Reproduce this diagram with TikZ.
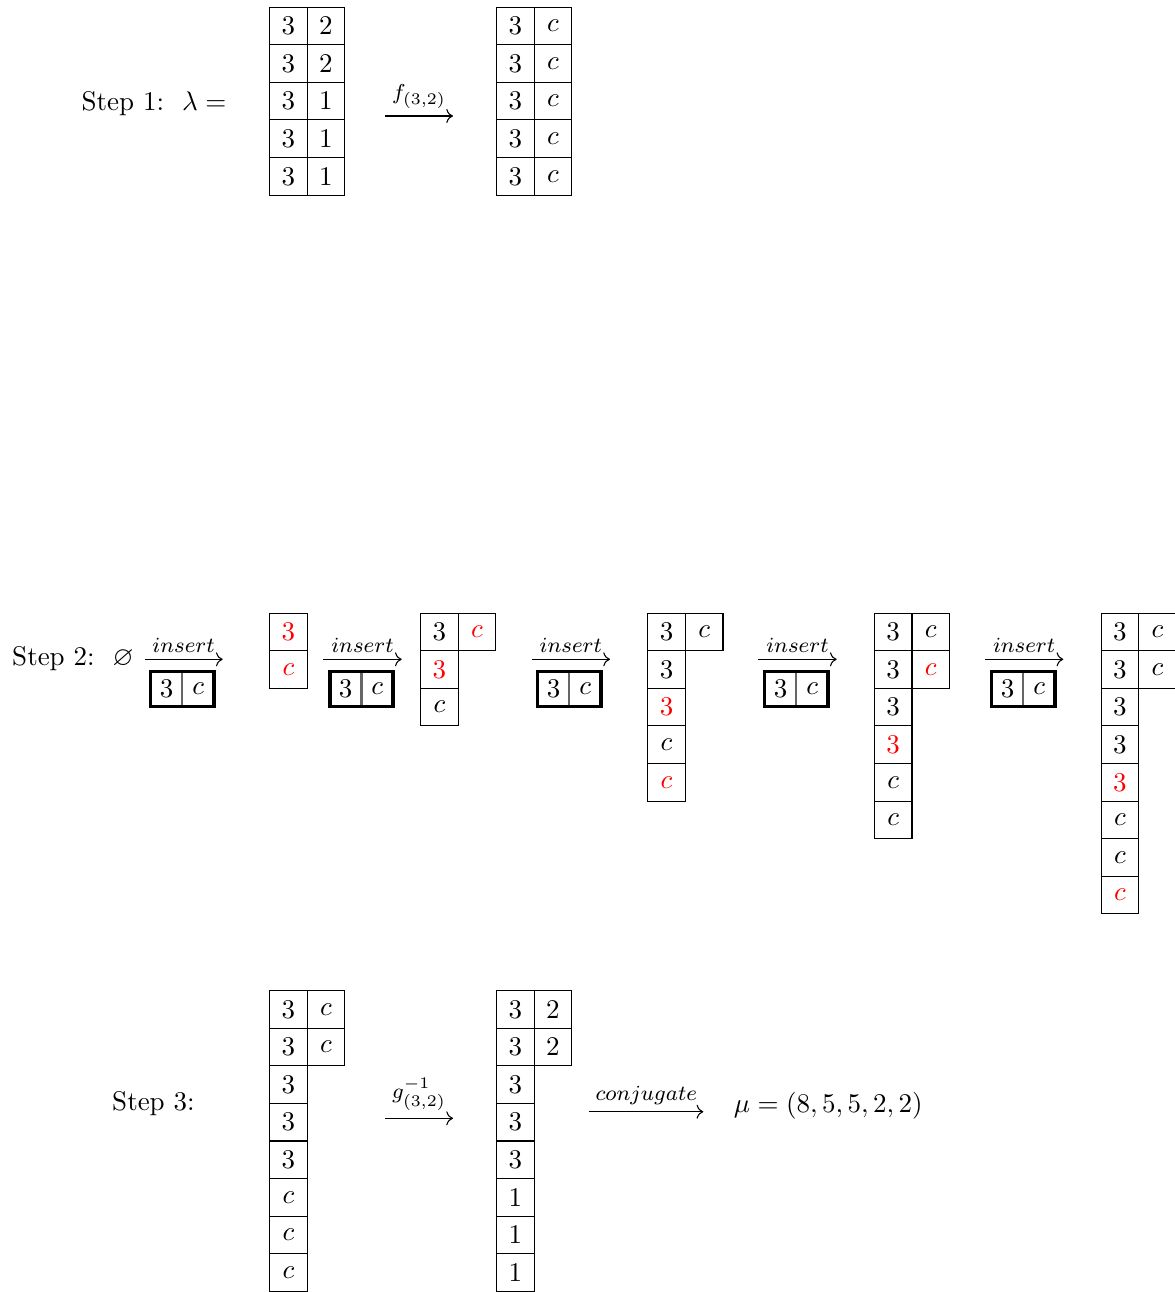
\documentclass[tikz,border=0pt]{standalone}
\usepackage{amssymb}
\usetikzlibrary{arrows.meta,positioning,fit,matrix}
\tikzset{
  yt/cell/.style={
    draw=black,
    line width=0.4pt,
    minimum width=13.93pt,
    minimum height=13.93pt,
    inner sep=0pt,
    anchor=center
  },
  yt/tab/.style={
    matrix of math nodes,
    nodes={yt/cell},
    column sep=-0.4pt,
    row sep=-0.4pt,
    inner sep=0pt,
    anchor=north west
  },
  yt/red/.style={text=red},
  yt/boxcell/.style={
    draw=black!60,
    line width=0.4pt,
    minimum width=11.3pt,
    minimum height=12.4pt,
    inner sep=0pt
  },
  yt/frame/.style={draw=black, line width=1.2pt, inner sep=0pt},
  yt/arrow/.style={-{Computer Modern Rightarrow}, line width=0.4pt},
  yt/lbl/.style={font=\footnotesize, inner sep=0pt, above=2.5pt},
  yt/steplabel/.style={inner sep=0pt, anchor=base west}
}
\begin{document}
\begin{tikzpicture}[x=0.3704pt,y=-0.3704pt]
  \useasboundingbox (0,0) rectangle (1175,1292);

  % step 1
  \node[yt/steplabel] (s1) at (81,110.7) {Step 1:\ \ $\lambda =$};
  \matrix[yt/tab] (lam) at (268.5,6) {
    3 & 2 \\ 3 & 2 \\ 3 & 1 \\ 3 & 1 \\ 3 & 1 \\
  };
  \coordinate (f1) at (385,116);
  \coordinate (f2) at (453,116);
  \draw[yt/arrow] (f1) -- node[yt/lbl] (flbl) {$f_{(3,2)}$} (f2);
  \matrix[yt/tab] (lamf) at (495.5,6) {
    3 & c \\ 3 & c \\ 3 & c \\ 3 & c \\ 3 & c \\
  };

  % step 2
  \node[yt/steplabel] (s2) at (11.7,665.7) {Step 2:\ \ $\varnothing$};

  \coordinate (i1a) at (144.5,659.3);
  \coordinate (i1b) at (222.7,659.3);
  \draw[yt/arrow] (i1a) -- node[yt/lbl] (l1) {$insert$} (i1b);
  \node[yt/boxcell] (b1l) at (166.6,689) {$3$};
  \node[yt/boxcell, right=0pt of b1l] (b1r) {$c$};
  \node[yt/frame, fit=(b1l)(b1r)] (b1) {};

  \matrix[yt/tab] (ta) at (268.5,612) {
    |[yt/red]| 3 \\ |[yt/red]| c \\
  };

  \coordinate (i2a) at (323.3,659.3);
  \coordinate (i2b) at (401.7,659.3);
  \draw[yt/arrow] (i2a) -- node[yt/lbl] (l2) {$insert$} (i2b);
  \node[yt/boxcell] (b2l) at (345.7,689) {$3$};
  \node[yt/boxcell, right=0pt of b2l] (b2r) {$c$};
  \node[yt/frame, fit=(b2l)(b2r)] (b2) {};

  \matrix[yt/tab] (tb) at (419.5,612) {
    3 & |[yt/red]| c \\ |[yt/red]| 3 \\ c \\
  };

  \coordinate (i3a) at (531.7,659.3);
  \coordinate (i3b) at (610,659.3);
  \draw[yt/arrow] (i3a) -- node[yt/lbl] (l3) {$insert$} (i3b);
  \node[yt/boxcell] (b3l) at (553.6,689) {$3$};
  \node[yt/boxcell, right=0pt of b3l] (b3r) {$c$};
  \node[yt/frame, fit=(b3l)(b3r)] (b3) {};

  \matrix[yt/tab] (tc) at (646.7,612) {
    3 & c \\ 3 \\ |[yt/red]| 3 \\ c \\ |[yt/red]| c \\
  };

  \coordinate (i4a) at (758.3,659.3);
  \coordinate (i4b) at (836.7,659.3);
  \draw[yt/arrow] (i4a) -- node[yt/lbl] (l4) {$insert$} (i4b);
  \node[yt/boxcell] (b4l) at (780.5,689) {$3$};
  \node[yt/boxcell, right=0pt of b4l] (b4r) {$c$};
  \node[yt/frame, fit=(b4l)(b4r)] (b4) {};

  \matrix[yt/tab] (td) at (873.3,612) {
    3 & c \\ 3 & |[yt/red]| c \\ 3 \\ |[yt/red]| 3 \\ c \\ c \\
  };

  \coordinate (i5a) at (985,659.3);
  \coordinate (i5b) at (1063.3,659.3);
  \draw[yt/arrow] (i5a) -- node[yt/lbl] (l5) {$insert$} (i5b);
  \node[yt/boxcell] (b5l) at (1007.6,689) {$3$};
  \node[yt/boxcell, right=0pt of b5l] (b5r) {$c$};
  \node[yt/frame, fit=(b5l)(b5r)] (b5) {};

  \matrix[yt/tab] (te) at (1100,612) {
    3 & c \\ 3 & c \\ 3 \\ 3 \\ |[yt/red]| 3 \\ c \\ c \\ |[yt/red]| c \\
  };

  % step 3
  \node[yt/steplabel] (s3) at (111.7,1110) {Step 3:};
  \matrix[yt/tab] (lamg) at (268.5,989.5) {
    3 & c \\ 3 & c \\ 3 \\ 3 \\ 3 \\ c \\ c \\ c \\
  };
  \coordinate (g1) at (385,1118.3);
  \coordinate (g2) at (453,1118.3);
  \draw[yt/arrow] (g1) -- node[yt/lbl] (glbl) {$g^{-1}_{(3,2)}$} (g2);
  \matrix[yt/tab] (mut) at (495.5,989.5) {
    3 & 2 \\ 3 & 2 \\ 3 \\ 3 \\ 3 \\ 1 \\ 1 \\ 1 \\
  };
  \coordinate (c1) at (589.3,1111.7);
  \coordinate (c2) at (703.3,1111.7);
  \draw[yt/arrow] (c1) -- node[yt/lbl] (clbl) {$conjugate$} (c2);
  \node[inner sep=0pt, anchor=west] (mu) at (733.3,1105.5) {$\mu = (8,5,5,2,2)$};
\end{tikzpicture}
\end{document}
